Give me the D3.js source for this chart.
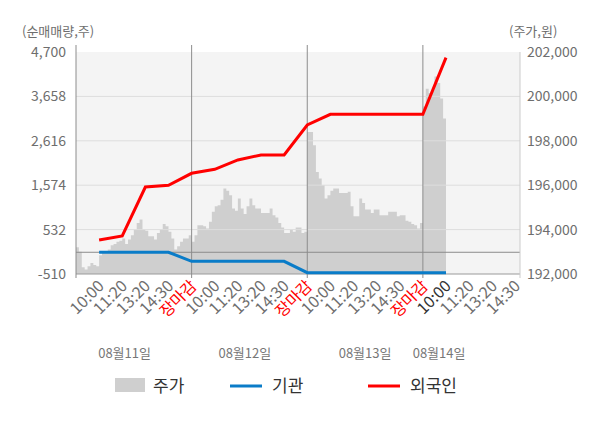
<!DOCTYPE html>
<html>
<head>
<meta charset="utf-8">
<script src="https://cdn.jsdelivr.net/npm/d3@7"></script>
<style>
  body { margin: 0; background: #fff; }
  svg text { font-family: "Noto Sans CJK KR", "Noto Sans", sans-serif; }
</style>
</head>
<body>
<svg id="chart" width="600" height="428"></svg>
<script>
// tick labels
const leftTicks = [-510, 532, 1574, 2616, 3658, 4700];
const rightTicks = [192000, 194000, 196000, 198000, 200000, 202000];
const dayLabels = ["08월11일", "08월12일", "08월13일", "08월14일"];
const timeLabels = ["10:00", "11:20", "13:20", "14:30", "장마감"];

// price (주가), 8 samples per tick interval, 40 per day
const price0811 = [193200,193000,192300,192200,192350,192500,192400,192350,192850,192950,
                   193000,193100,193300,193350,193450,193500,193600,193350,193550,193750,
                   194000,194300,194450,194000,193950,193700,193700,193550,193850,194000,
                   194250,194150,193900,193600,193100,193250,193450,193600,193600,193750];
const price0812 = [193450,193750,194200,194200,194150,194050,194350,194800,195050,195100,
                   195350,195850,195750,195550,194950,194850,195400,194950,194700,195050,
                   195400,195100,194950,194950,194750,194750,194750,194950,194650,194550,
                   194300,194100,193850,193850,194000,193900,194100,194100,193850,193900];
const price0813 = [198400,198400,197800,196600,196300,196000,195400,195550,195750,195850,
                   195850,195650,195650,195650,195700,195050,194600,194600,195400,195200,
                   194900,194900,194750,194900,194900,194650,194650,194650,194800,194800,
                   194800,194600,194650,194650,194400,194350,194250,194200,194050,194300];
const price0814 = [199550,200350,200150,200300,200900,200600,199900,199000];
const priceDays = [price0811, price0812, price0813, price0814];

// net buying (순매매량) at each time tick
const lineSlots   = [1, 2, 3, 4, 5, 6, 7, 8, 9, 10, 11, 12, 13, 14, 15, 16];
const foreignNet  = [288, 382, 1532, 1572, 1853, 1947, 2166, 2283, 2283, 2987, 3238, 3238, 3238, 3238, 3238, 4567];
const instNet     = [0, 0, 0, 0, -212, -212, -212, -212, -212, -479, -479, -479, -479, -479, -479, -479];

const svg = d3.select("#chart");
const plotLeft = 76, plotRight = 520, plotTop = 52, plotBottom = 274;
const perDay = 40, slotsPerDay = 5;

const x = d3.scaleLinear().domain([0, 19.2]).range([plotLeft, plotRight]);
const yL = d3.scaleLinear().domain([-510, 4700]).range([plotBottom, plotTop]);
const yR = d3.scaleLinear().domain([192000, 202000]).range([plotBottom, plotTop]);

// plot background
svg.append("rect")
    .attr("x", plotLeft).attr("y", plotTop)
    .attr("width", plotRight - plotLeft).attr("height", plotBottom - plotTop)
    .attr("fill", "#f4f4f4");

// price area
const pricePts = [];
priceDays.forEach((arr, d) => {
    arr.forEach((v, i) => pricePts.push({ s: d * slotsPerDay + i * slotsPerDay / perDay, v: v }));
});
const lastPt = pricePts[pricePts.length - 1];
pricePts.push({ s: lastPt.s + slotsPerDay / perDay, v: lastPt.v });

svg.append("path")
    .datum(pricePts)
    .attr("fill", "#cfcfcf")
    .attr("d", d3.area()
        .curve(d3.curveStepAfter)
        .x(d => x(d.s))
        .y0(plotBottom)
        .y1(d => yR(d.v)));

// grid lines
svg.selectAll("line.grid")
    .data(leftTicks.slice(1, -1))
    .enter()
    .append("line")
    .attr("class", "grid")
    .attr("x1", plotLeft).attr("x2", plotRight)
    .attr("y1", d => yL(d)).attr("y2", d => yL(d))
    .attr("stroke", "#dddddd")
    .attr("stroke-width", 1);

// zero line
svg.append("line")
    .attr("x1", plotLeft).attr("x2", plotRight)
    .attr("y1", yL(0)).attr("y2", yL(0))
    .attr("stroke", "#8c8c8c");

// bottom axis line
svg.append("line")
    .attr("x1", plotLeft).attr("x2", plotRight)
    .attr("y1", plotBottom).attr("y2", plotBottom)
    .attr("stroke", "#9a9a9a");

// left axis + day separators
const sepSlots = [0, 5, 10, 15];
svg.selectAll("line.sep")
    .data(sepSlots)
    .enter()
    .append("line")
    .attr("class", "sep")
    .attr("x1", d => d === 0 ? plotLeft : x(d)).attr("x2", d => d === 0 ? plotLeft : x(d))
    .attr("y1", plotTop - 7).attr("y2", plotBottom + 4)
    .attr("stroke", "#8c8c8c");

// right axis line
svg.append("line")
    .attr("x1", plotRight).attr("x2", plotRight)
    .attr("y1", plotTop).attr("y2", plotBottom + 4)
    .attr("stroke", "#cccccc");

// lines
const lineGen = vals => d3.line()
    .x((d, i) => x(lineSlots[i]))
    .y(d => yL(d))(vals);

svg.append("path")
    .attr("d", lineGen(instNet))
    .attr("fill", "none")
    .attr("stroke", "#0a7cc8")
    .attr("stroke-width", 3);

svg.append("path")
    .attr("d", lineGen(foreignNet))
    .attr("fill", "none")
    .attr("stroke", "#ff0000")
    .attr("stroke-width", 3);

// left tick labels
svg.selectAll("text.lt")
    .data(leftTicks)
    .enter()
    .append("text")
    .attr("x", 66)
    .attr("y", d => yL(d) + 5)
    .attr("text-anchor", "end")
    .style("font-size", "14px")
    .style("fill", "#6e6e6e")
    .text(d => d3.format(",")(d).replace("−", "-"));

// right tick labels
svg.selectAll("text.rt")
    .data(rightTicks)
    .enter()
    .append("text")
    .attr("x", 527)
    .attr("y", d => yR(d) + 5)
    .attr("text-anchor", "start")
    .style("font-size", "14px")
    .style("fill", "#6e6e6e")
    .text(d => d3.format(",")(d));

// axis titles
svg.append("text")
    .attr("x", 22).attr("y", 36)
    .style("font-size", "13px")
    .style("fill", "#6e6e6e")
    .text("(순매매량,주)");

svg.append("text")
    .attr("x", 509).attr("y", 36)
    .style("font-size", "13px")
    .style("fill", "#6e6e6e")
    .text("(주가,원)");

// x tick labels
const xTicks = [];
dayLabels.forEach((day, d) => {
    timeLabels.forEach((t, k) => {
        const s = d * slotsPerDay + k + 1;
        if (s <= 19.2) xTicks.push({ s: s, label: t, day: d });
    });
});

svg.selectAll("text.xt")
    .data(xTicks)
    .enter()
    .append("text")
    .attr("transform", d => `translate(${x(d.s) + 6},${287}) rotate(-45)`)
    .attr("text-anchor", "end")
    .style("font-size", "16px")
    .style("fill", d => d.label === "장마감" ? "#ff0000" : (d.day === 3 && d.label === "10:00" ? "#333333" : "#6e6e6e"))
    .text(d => d.label);

// date labels
const dateSlots = [2.1, 7.3, 12.5, 15.7];
svg.selectAll("text.date")
    .data(dayLabels)
    .enter()
    .append("text")
    .attr("x", (d, i) => x(dateSlots[i]))
    .attr("y", 358)
    .attr("text-anchor", "middle")
    .style("font-size", "13px")
    .style("fill", "#777777")
    .text(d => d);

// legend
const legend = svg.append("g");
legend.append("rect")
    .attr("x", 115).attr("y", 378)
    .attr("width", 30).attr("height", 14)
    .attr("fill", "#cfcfcf");
legend.append("text")
    .attr("x", 153).attr("y", 392)
    .style("font-size", "17px")
    .style("fill", "#333")
    .text("주가");

legend.append("line")
    .attr("x1", 230).attr("x2", 262)
    .attr("y1", 386).attr("y2", 386)
    .attr("stroke", "#0a7cc8").attr("stroke-width", 3);
legend.append("text")
    .attr("x", 272).attr("y", 392)
    .style("font-size", "17px")
    .style("fill", "#333")
    .text("기관");

legend.append("line")
    .attr("x1", 368).attr("x2", 400)
    .attr("y1", 386).attr("y2", 386)
    .attr("stroke", "#ff0000").attr("stroke-width", 3);
legend.append("text")
    .attr("x", 410).attr("y", 392)
    .style("font-size", "17px")
    .style("fill", "#333")
    .text("외국인");
</script>
</body>
</html>
